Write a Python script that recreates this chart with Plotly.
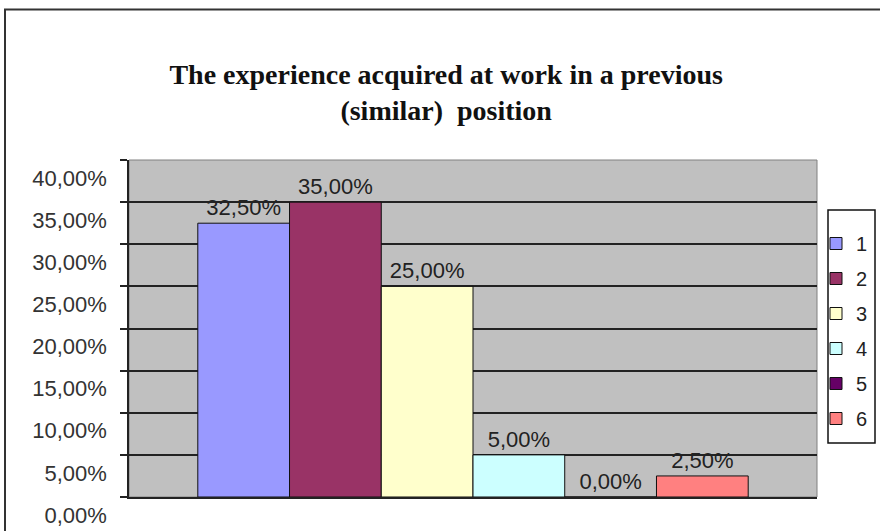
import plotly.graph_objects as go

# Answer groups and their shares of respondents
series_names = ["1", "2", "3", "4", "5", "6"]
shares = [0.325, 0.35, 0.25, 0.05, 0.0, 0.025]
series_colors = ["#9999FF", "#993366", "#FFFFCC", "#CCFFFF", "#660066", "#FF8080"]

y_ticks = [0, 0.05, 0.10, 0.15, 0.20, 0.25, 0.30, 0.35, 0.40]

title_text = "The experience acquired at work in a previous<br>(similar)  position"

fig = go.Figure()
for name, val, col in zip(series_names, shares, series_colors):
    fig.add_trace(go.Bar(
        x=[""], y=[val], name=name, legendgroup=name,
        marker=dict(color=col, line=dict(color="#111111", width=1)),
        texttemplate="%{y:.2%}", textposition="outside",
        textfont=dict(family="Liberation Sans, Arial", size=22, color="#222222"),
        cliponaxis=False,
    ))

W, H = 880, 531
ml, mr, mt, mb = 129, 63, 160, 34
pw, ph = W - ml - mr, H - mt - mb


def px_x(x):
    return (x - ml) / pw


def px_y(y):
    return (H - mb - y) / ph


fig.update_layout(
    width=W, height=H,
    margin=dict(l=ml, r=mr, t=mt, b=mb, autoexpand=False),
    paper_bgcolor="white",
    plot_bgcolor="#C0C0C0",
    separators=", ",
    barmode="group", bargap=0.2, bargroupgap=0,
    font=dict(family="Liberation Sans, Arial", size=20, color="#222222"),
    title=dict(
        text=title_text, x=0.507, xanchor="center", xref="container",
        y=1 - 84 / H, yanchor="top", yref="container",
        font=dict(family="Liberation Serif, Times New Roman", size=28, color="#111111", weight="bold"),
    ),
    legend=dict(
        x=px_x(816), y=px_y(224), xanchor="left", yanchor="top",
        bgcolor="rgba(0,0,0,0)", borderwidth=0,
        font=dict(family="Liberation Sans, Arial", size=20, color="#222222"),
        tracegroupgap=6, traceorder="grouped",
        itemwidth=30,
    ),
    xaxis=dict(showticklabels=False, showgrid=False, zeroline=False,
               showline=True, linecolor="#222222", linewidth=1.5, ticks=""),
    yaxis=dict(
        range=[0, 0.4], tickvals=y_ticks, tickformat=".2%",
        showgrid=True, gridcolor="#222222", gridwidth=1.5,
        zeroline=False, showline=True, linecolor="#222222", linewidth=1.5,
        ticks="outside", ticklen=7, tickcolor="#222222", tickwidth=1.5,
        ticklabelshift=18, ticklabelstandoff=9,
        tickfont=dict(family="Liberation Sans, Arial", size=22, color="#333333"),
    ),
    shapes=[
        # plot area border
        dict(type="rect", xref="paper", yref="paper", x0=0, x1=1, y0=0, y1=1,
             line=dict(color="#808080", width=1), layer="below"),
        # legend frame
        dict(type="rect", xref="paper", yref="paper",
             x0=px_x(828), x1=px_x(875), y0=px_y(443), y1=px_y(210),
             fillcolor="white", line=dict(color="#111111", width=1.5), layer="below"),
        # outer chart frame
        dict(type="rect", xref="paper", yref="paper",
             x0=px_x(5), x1=px_x(884), y0=px_y(536), y1=px_y(9.5),
             line=dict(color="#333333", width=2)),
    ],
)

fig.write_html("out.html")
